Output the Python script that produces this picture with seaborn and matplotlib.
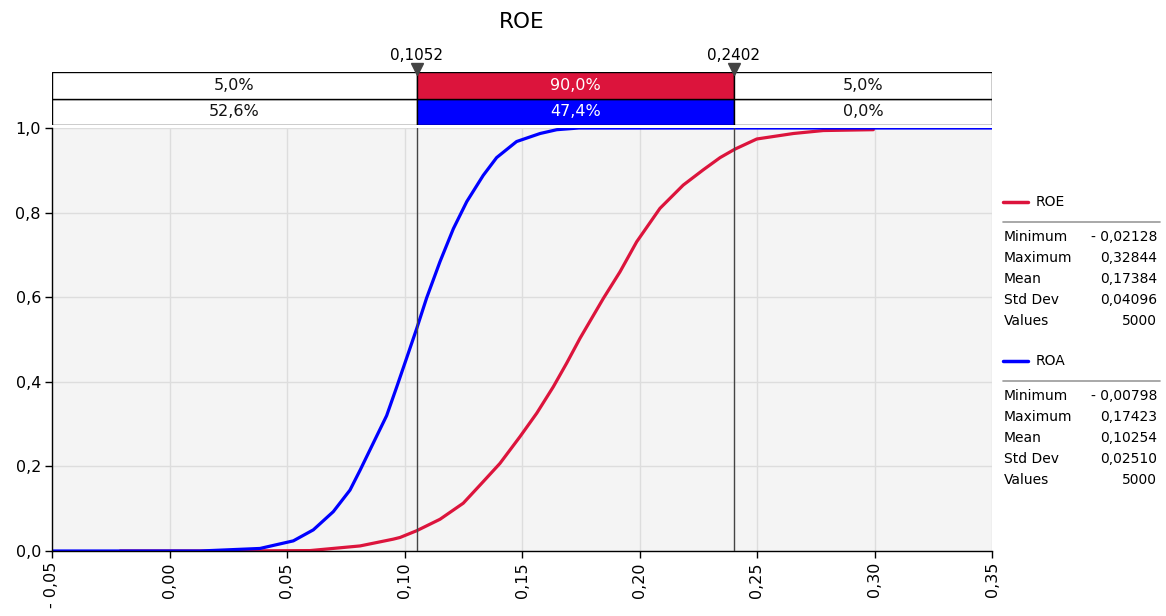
import numpy as np
import pandas as pd
import matplotlib
matplotlib.use("Agg")
import matplotlib.pyplot as plt
from matplotlib.lines import Line2D
import seaborn as sns

# cumulative curves
roe_x = [-0.021, 0.020, 0.040, 0.0598, 0.0811, 0.0952, 0.0981, 0.1052, 0.1151, 0.125,
         0.1335, 0.1406, 0.1491, 0.1563, 0.1633, 0.169, 0.1747, 0.1846, 0.1917, 0.1988,
         0.2087, 0.2186, 0.2271, 0.2343, 0.2406, 0.2499, 0.2655, 0.2782, 0.2995]
roe_y = [0.0, 0.0, 0.0005, 0.001, 0.012, 0.028, 0.032, 0.048, 0.075, 0.113,
         0.164, 0.207, 0.270, 0.326, 0.388, 0.444, 0.503, 0.597, 0.660, 0.731,
         0.810, 0.865, 0.901, 0.930, 0.950, 0.974, 0.987, 0.994, 0.996]

roa_x = [-0.05, 0.013, 0.0385, 0.0527, 0.0612, 0.0697, 0.0768, 0.0811, 0.0867, 0.0924,
         0.0967, 0.1009, 0.1052, 0.1094, 0.1151, 0.1208, 0.1265, 0.1335, 0.1392, 0.1477,
         0.1577, 0.1648, 0.1742, 0.35]
roa_y = [0.0, 0.0, 0.006, 0.024, 0.050, 0.093, 0.144, 0.191, 0.255, 0.320,
         0.388, 0.456, 0.526, 0.598, 0.684, 0.762, 0.826, 0.888, 0.930, 0.968,
         0.987, 0.996, 1.0, 1.0]

cuts = [-0.05, 0.1052, 0.2402, 0.35]
roe_pct = [5.0, 90.0, 5.0]
roa_pct = [52.6, 47.4, 0.0]

x_ticks = [-0.05, 0.00, 0.05, 0.10, 0.15, 0.20, 0.25, 0.30, 0.35]
y_ticks = [0.0, 0.2, 0.4, 0.6, 0.8, 1.0]

stat_names = ["Minimum", "Maximum", "Mean", "Std Dev", "Values"]
roe_stats = ["- 0,02128", "0,32844", "0,17384", "0,04096", "5000"]
roa_stats = ["- 0,00798", "0,17423", "0,10254", "0,02510", "5000"]

RED = "#DC143C"
BLUE = "#0000FF"

sns.set_theme(style="white")
plt.rcParams["font.family"] = ["DejaVu Sans"]
plt.rcParams["text.color"] = "black"
plt.rcParams["xtick.color"] = "black"
plt.rcParams["ytick.color"] = "black"

W, H = 1166, 616
fig = plt.figure(figsize=(W / 100, H / 100), dpi=100)


def fx(p):
    return p / W


def fy(p):
    return 1 - p / H


# main plot
ax = fig.add_axes([fx(52), fy(551), fx(992) - fx(52), fy(128) - fy(551)])
ax.set_facecolor("#f4f4f4")

df = pd.concat([
    pd.DataFrame({"x": roe_x, "y": roe_y, "s": "ROE"}),
    pd.DataFrame({"x": roa_x, "y": roa_y, "s": "ROA"}),
])
sns.lineplot(data=df, x="x", y="y", hue="s", palette={"ROE": RED, "ROA": BLUE},
             hue_order=["ROE", "ROA"], linewidth=2.3, legend=False, sort=False,
             estimator=None, ax=ax)

ax.set_xlim(-0.05, 0.35)
ax.set_ylim(0, 1.0)
ax.set_xticks(x_ticks)
ax.set_xticklabels([("- " if v < 0 else "") + f"{abs(v):.2f}".replace(".", ",") for v in x_ticks],
                   rotation=90, fontsize=11.5)
ax.set_yticks(y_ticks)
ax.set_yticklabels([f"{v:.1f}".replace(".", ",") for v in y_ticks], fontsize=11.5)
ax.grid(True, color="#dddddd", linewidth=1)
ax.tick_params(axis="both", direction="out", length=5, width=1, color="black", pad=3)
ax.xaxis.set_ticks_position("bottom")
ax.yaxis.set_ticks_position("left")
for side in ["top", "right"]:
    ax.spines[side].set_visible(False)
for side in ["left", "bottom"]:
    ax.spines[side].set_color("black")
    ax.spines[side].set_linewidth(1)
ax.set_xlabel("")
ax.set_ylabel("")
for c in cuts[1:3]:
    ax.axvline(c, color="#444444", linewidth=1, zorder=5)

# band with percentages
bx = fig.add_axes([fx(52), fy(125), fx(992) - fx(52), fy(72) - fy(125)])
bx.set_xlim(-0.05, 0.35)
bx.set_ylim(0, 2)
bx.axis("off")
lefts = cuts[:-1]
widths = np.diff(cuts)
for row, (pct, col) in enumerate([(roa_pct, BLUE), (roe_pct, RED)]):
    fills = ["white", col, "white"]
    bx.barh([row + 0.5] * 3, widths, left=lefts, height=1, color=fills,
            edgecolor="black", linewidth=1)
    for i in range(3):
        bx.text(lefts[i] + widths[i] / 2, row + 0.5, f"{pct[i]:.1f}%".replace(".", ","),
                ha="center", va="center", fontsize=11.5,
                color="white" if i == 1 else "#111111")
bx.plot(cuts[1:3], [2.1, 2.1], linestyle="none", marker="v", markersize=8,
        color="#444444", clip_on=False, zorder=6)
for c in cuts[1:3]:
    bx.text(c, 2.35, f"{c:.4f}".replace(".", ","), ha="center", va="bottom", fontsize=11)

fig.text(fx(522), fy(22), "ROE", ha="center", va="center", fontsize=15.5)

# stats legend
def stats_block(y0, name, color, vals):
    fig.add_artist(Line2D([fx(1003), fx(1028)], [fy(y0), fy(y0)], color=color, linewidth=2.5))
    fig.text(fx(1036), fy(y0), name, ha="left", va="center", fontsize=10)
    fig.add_artist(Line2D([fx(1003), fx(1160)], [fy(y0 + 20), fy(y0 + 20)], color="#999999", linewidth=1.2))
    for i, (n, v) in enumerate(zip(stat_names, vals)):
        yy = y0 + 35 + i * 21
        fig.text(fx(1004), fy(yy), n, ha="left", va="center", fontsize=10)
        fig.text(fx(1157), fy(yy), v, ha="right", va="center", fontsize=10)


stats_block(202, "ROE", RED, roe_stats)
stats_block(361, "ROA", BLUE, roa_stats)

fig.savefig("out.png", dpi=100)
